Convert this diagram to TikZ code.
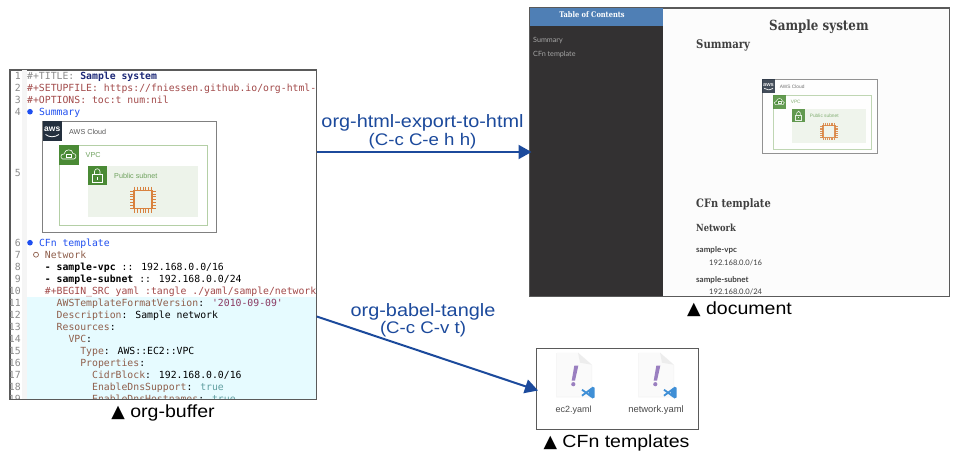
\documentclass[tikz,border=0pt]{standalone}
\usepackage{fontspec}
\usetikzlibrary{arrows.meta}
\setmainfont{Liberation Sans}
\newfontfamily\widefont[FakeStretch=1.11]{Liberation Sans}
\newfontfamily\codefont{DejaVu Sans Mono}
\newfontfamily\slabfont[FakeStretch=.85]{DejaVu Serif}
\newfontfamily\latofont{Lato}
\newfontfamily\symfont{DejaVu Sans}
\definecolor{arrowblue}{HTML}{1C4A9C}
\definecolor{awsdark}{HTML}{232F3E}
\definecolor{awsgreen}{HTML}{4A8A35}
\definecolor{vpcline}{HTML}{B4CFA6}
\definecolor{subnetfill}{HTML}{EDF3EA}
\definecolor{chip}{HTML}{D9823F}
\definecolor{kwred}{HTML}{A24A4A}
\definecolor{keybrown}{HTML}{8F5F4C}
\definecolor{headblue}{HTML}{1F4FF0}
\definecolor{navy}{HTML}{1E2A78}
\definecolor{strpurple}{HTML}{8B3A62}
\definecolor{teal2}{HTML}{5F9EA0}
\definecolor{numgray}{HTML}{8A8A8A}
\definecolor{cyanbg}{HTML}{E6FBFF}
\definecolor{sidedark}{HTML}{333132}
\definecolor{sideblue}{HTML}{4F7FB5}
\definecolor{doctext}{HTML}{404040}
\definecolor{panelline}{HTML}{5A5A5A}
\definecolor{yamlpurple}{HTML}{9A7FC0}
\definecolor{codeblue}{HTML}{3F8FD6}
\newcounter{txt}
\tikzset{
  panel/.style={draw=panelline,line width=.8pt,fill=#1,inner sep=0pt,anchor=north west},
  codetxt/.style={anchor=base west,inner sep=0pt,font=\codefont\fontsize{9.8}{10}\selectfont},
  numtxt/.style={anchor=base east,inner sep=0pt,text=numgray,font=\codefont\fontsize{9.8}{10}\selectfont},
  doctxt/.style={anchor=base west,inner sep=0pt,text=doctext,font=\latofont\fontsize{7.6}{8}\selectfont},
  slabtxt/.style={anchor=base west,inner sep=0pt,text=doctext},
  capt/.style={anchor=base,inner sep=0pt,font=\widefont\fontsize{17.6}{18}\selectfont},
  cmdtxt/.style={anchor=base,inner sep=0pt,text=arrowblue,font=\widefont\fontsize{17.9}{19}\selectfont},
  keytxt/.style={anchor=base,inner sep=0pt,text=arrowblue,font=\widefont\fontsize{16.8}{18}\selectfont},
  flow/.style={draw=arrowblue,line width=2pt,-{Triangle[length=13pt,width=14pt]}},
  awstxt/.style={anchor=west,inner sep=0pt,font=\fontsize{7.2}{8}\selectfont},
  awsdiagram/.pic={
    \draw[draw=black!50,line width=1pt,fill=white] (0,0) rectangle (173.5,111);
    \fill[awsdark] (0,0) rectangle (19.5,20);
    \node[anchor=center,inner sep=0pt,text=white,font=\bfseries\fontsize{8.5}{9}\selectfont] (logo) at (9.75,8) {aws};
    \draw[white,line width=.8pt] (3,13.5) .. controls (7,16.5) and (12,16.5) .. (16.5,13.5);
    \node[awstxt,text=black!65] (cloudtxt) at (26.5,10.5) {AWS Cloud};
    \draw[vpcline,line width=1pt] (16.5,24) rectangle (164.5,104.5);
    \fill[awsgreen] (16.5,24) rectangle (36,44);
    \draw[white,line width=.6pt,fill=awsgreen] (20,38) .. controls (17.5,37) and (18,32.5) .. (21.5,33) .. controls (22.5,27.5) and (30,27.5) .. (30.5,32.5) .. controls (34,32) and (34.5,37.5) .. (31.5,38) -- cycle;
    \draw[white,line width=.5pt] (24,33.5) rectangle (28.5,36.5);
    \node[awstxt,text=awsgreen!80] (vpctxt) at (43,34) {VPC};
    \fill[subnetfill] (45,44.5) rectangle (155.5,95.5);
    \fill[awsgreen] (45,44.5) rectangle (64.5,64);
    \draw[white,line width=.6pt] (50,53.5) rectangle (59.5,61);
    \draw[white,line width=.6pt] (52,53.5) -- (52,50.5) arc[start angle=180,end angle=360,radius=2.75] -- (57.5,53.5);
    \draw[white,line width=.5pt] (54.75,56) -- (54.75,58.5);
    \node[awstxt,text=awsgreen!80] (subnettxt) at (71.5,54.5) {Public subnet};
    \draw[chip,line width=1.2pt] (91.5,69.5) rectangle (109.5,87.5);
    \foreach \k in {0,...,6} {
      \draw[chip,line width=.6pt] (92+\k*2.8,65.5) -- (92+\k*2.8,69.5);
      \draw[chip,line width=.6pt] (92+\k*2.8,87.5) -- (92+\k*2.8,91.5);
      \draw[chip,line width=.6pt] (87.5,70+\k*2.8) -- (91.5,70+\k*2.8);
      \draw[chip,line width=.6pt] (109.5,70+\k*2.8) -- (113.5,70+\k*2.8);
    }
  },
  fileicon/.pic={
    \fill[black!5] (-.6,.4) -- (21,.4) -- (35.2,12.5) -- (35.2,44.6) -- (-.6,44.6) -- cycle;
    \fill[white!98!black] (0,0) -- (21,0) -- (34.6,12) -- (34.6,44) -- (0,44) -- cycle;
    \fill[black!7] (21,0) -- (23,10) -- (34.6,12) -- cycle;
    \fill[yamlpurple] (17.3,13) -- (21.3,13) -- (18,28) -- (14.7,28) -- cycle;
    \fill[yamlpurple] (16.3,31.5) circle[radius=2.1];
    \fill[codeblue] (35.3,34) -- (37.5,35) -- (37.5,44.8) -- (35.3,45.8) -- (31.5,42) -- (31.5,37.8) -- cycle;
    \draw[codeblue,line width=1.8pt] (34.5,36) -- (25,43);
    \draw[codeblue,line width=1.8pt] (34.5,44) -- (25,37);
  }
}
\newcommand{\cl}[3]{\stepcounter{txt}\node[codetxt] (code\arabic{txt}) at ({27+5.9*#1},#2) {#3};}
\newcommand{\dt}[3]{\stepcounter{txt}\node[doctxt] (doc\arabic{txt}) at (#1,#2) {#3};}
\begin{document}
\begin{tikzpicture}[x=1pt,y=-1pt]
\useasboundingbox (0,0) rectangle (960,453);
\fill[white] (0,0) rectangle (960,453);
% ---- org buffer
\node[panel=white,minimum width=306.5pt,minimum height=329.5pt] (buffer) at (9.5,69.5) {};
\begin{scope}
  \clip (buffer.north west) rectangle (buffer.south east);
  \fill[black!4] (22,70) rectangle (27,399);
  \fill[cyanbg] (27,296.7) rectangle (316,400);
  \foreach \n in {1,2,3,4} {\node[numtxt] (num\n) at (21,{79+12*(\n-1)}) {\n};}
  \node[numtxt] (num5) at (21,176.5) {5};
  \foreach \n in {6,...,19} {\node[numtxt] (num\n) at (21,{246+12*(\n-6)}) {\n};}
  \cl{0}{79}{\textcolor{numgray}{\#+TITLE:} \textcolor{navy}{\bfseries Sample system}}
  \cl{0}{91}{\textcolor{kwred}{\#+SETUPFILE: https://fniessen.github.io/org-html-}}
  \cl{0}{103}{\textcolor{kwred}{\#+OPTIONS: toc:t num:nil}}
  \fill[headblue] (30,111.7) circle[radius=2.8];
  \cl{2}{115}{\textcolor{headblue}{Summary}}
  \fill[headblue] (30,242.7) circle[radius=2.8];
  \cl{2}{246}{\textcolor{headblue}{CFn template}}
  \draw[keybrown,line width=.7pt] (36,254.7) circle[radius=2.5];
  \cl{3}{258}{\textcolor{keybrown}{Network}}
  \cl{3}{270}{\textbf{- sample-vpc} :: 192.168.0.0/16}
  \cl{3}{282}{\textbf{- sample-subnet} :: 192.168.0.0/24}
  \cl{3}{294}{\textcolor{kwred}{\#+BEGIN\_SRC yaml :tangle ./yaml/sample/network.yaml}}
  \cl{5}{306}{\textcolor{keybrown}{AWSTemplateFormatVersion}: \textcolor{strpurple}{'2010-09-09'}}
  \cl{5}{318}{\textcolor{keybrown}{Description}: Sample network}
  \cl{5}{330}{\textcolor{keybrown}{Resources}:}
  \cl{7}{342}{\textcolor{keybrown}{VPC}:}
  \cl{9}{354}{\textcolor{keybrown}{Type}: AWS::EC2::VPC}
  \cl{9}{366}{\textcolor{keybrown}{Properties}:}
  \cl{11}{378}{\textcolor{keybrown}{CidrBlock}: 192.168.0.0/16}
  \cl{11}{390}{\textcolor{keybrown}{EnableDnsSupport}: \textcolor{teal2}{true}}
  \cl{11}{402}{\textcolor{keybrown}{EnableDnsHostnames}: \textcolor{teal2}{true}}
\end{scope}
\pic (awsmain) at (42.5,121) {awsdiagram};
\draw[panelline,line width=.8pt] (buffer.north west) rectangle (buffer.south east);
% ---- document
\node[panel=black!1,minimum width=419pt,minimum height=288.5pt] (docpanel) at (529.5,7.5) {};
\fill[sidedark] (530,8) rectangle (663,296);
\fill[sideblue] (530,8) rectangle (663,25.5);
\node[anchor=center,inner sep=0pt,text=white,font=\slabfont\bfseries\fontsize{7.8}{8}\selectfont] (toc) at (592,14.5) {Table of Contents};
\stepcounter{txt}\node[doctxt,text=black!35,font=\latofont\fontsize{7.2}{8}\selectfont] (side1) at (533,42) {Summary};
\stepcounter{txt}\node[doctxt,text=black!35,font=\latofont\fontsize{7.2}{8}\selectfont] (side2) at (533,56.5) {CFn template};
\node[slabtxt,font=\slabfont\bfseries\fontsize{14}{15}\selectfont] (doctitle) at (769,30) {Sample system};
\node[slabtxt,font=\slabfont\bfseries\fontsize{11.9}{13}\selectfont] (docsum) at (696,48.5) {Summary};
\begin{scope}[opacity=.85]
\pic[scale=.667,transform shape] (awssmall) at (762,79.3) {awsdiagram};
\end{scope}
\node[slabtxt,font=\slabfont\bfseries\fontsize{11.6}{13}\selectfont] (doccfn) at (696,207.5) {CFn template};
\node[slabtxt,font=\slabfont\bfseries\fontsize{9.8}{11}\selectfont] (docnet) at (696,231) {Network};
\node[doctxt,font=\latofont\bfseries\fontsize{8}{9}\selectfont] (vpcterm) at (696,252.5) {sample-vpc};
\dt{709}{265}{192.168.0.0/16}
\node[doctxt,font=\latofont\bfseries\fontsize{8}{9}\selectfont] (subterm) at (696,282.5) {sample-subnet};
\dt{709}{294.5}{192.168.0.0/24}
\draw[panelline,line width=.8pt] (docpanel.north west) rectangle (docpanel.south east);
% ---- templates folder
\node[panel=white,minimum width=162.5pt,minimum height=80.5pt] (files) at (535.5,348) {};
\pic (icon1) at (557,352.7) {fileicon};
\pic (icon2) at (639,352.7) {fileicon};
\node[anchor=center,inner sep=0pt,text=black!70,font=\fontsize{9}{10}\selectfont] (ec2) at (573.5,410.5) {ec2.yaml};
\node[anchor=center,inner sep=0pt,text=black!70,font=\fontsize{9.4}{10}\selectfont] (network) at (656,410.5) {network.yaml};
% ---- captions
\node[capt] (cap1) at (163,417) {{\symfont ▲} org-buffer};
\node[capt] (cap2) at (739.5,314) {{\symfont ▲} document};
\node[capt] (cap3) at (616.5,447) {{\symfont ▲} CFn templates};
% ---- connectors
\coordinate (htmlstart) at (buffer.east |- 0,152);
\coordinate (htmlend) at ([xshift=2pt]docpanel.west |- 0,152);
\coordinate (tanglestart) at (buffer.east |- 0,316.5);
\coordinate (tangleend) at ([xshift=2.5pt]files.west |- 0,390.5);
\draw[flow] (htmlstart) -- (htmlend);
\draw[flow] (tanglestart) -- (tangleend);
\node[cmdtxt] (htmlcmd) at (422.5,127.5) {org-html-export-to-html};
\node[keytxt] (htmlkeys) at (422.5,145.5) {(C-c C-e h h)};
\node[cmdtxt] (tanglecmd) at (423,316.5) {org-babel-tangle};
\node[keytxt] (tanglekeys) at (423,333) {(C-c C-v t)};
\end{tikzpicture}
\end{document}
